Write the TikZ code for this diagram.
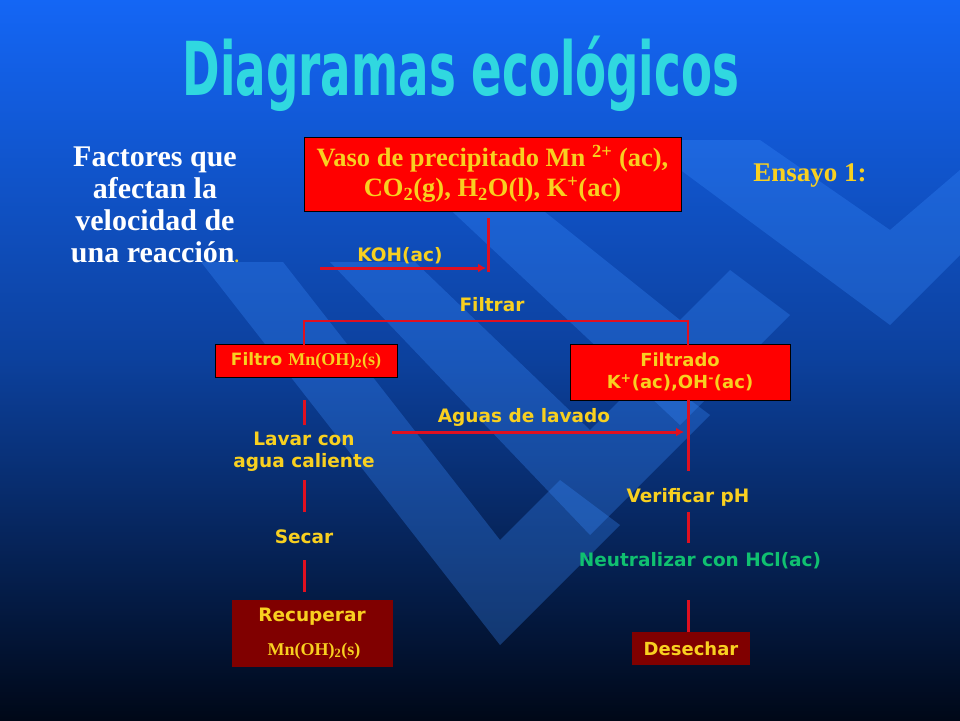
\documentclass[tikz,border=0pt]{standalone}
\usepackage{fontspec}
\setmainfont{Liberation Serif}
\setsansfont{DejaVu Sans}
\newfontfamily\titlefont{DejaVu Sans Condensed}
\usetikzlibrary{arrows.meta}
\definecolor{ylw}{HTML}{F8D020}
\definecolor{lred}{HTML}{E01020}
\definecolor{boxred}{HTML}{FF0000}
\definecolor{dred}{HTML}{800000}
\definecolor{grn}{HTML}{10C070}
\definecolor{bgtop}{HTML}{1466F5}
\definecolor{bgbot}{HTML}{000818}
\definecolor{stripe}{HTML}{3A8CFF}
\definecolor{ttl}{HTML}{30D8E0}
\begin{document}
\begin{tikzpicture}[x=1pt,y=-1pt,
  lbl/.style={font=\sffamily\bfseries\fontsize{18.5}{22}\selectfont,text=ylw,align=center,inner sep=1pt},
  redbox/.style={fill=boxred,draw=black,line width=0.8pt,text=ylw,align=center},
  darkbox/.style={fill=dred,text=ylw,align=center},
  conn/.style={draw=lred,line width=3pt},
  arr/.style={draw=lred,line width=3pt,-{Latex[length=8pt,width=9pt]}}]
\useasboundingbox (0,0) rectangle (960,720);
\shade[top color=bgtop,bottom color=bgbot,middle color=bgtop!60!bgbot] (0,0) rectangle (960,720);
% stripes
\begin{scope}[opacity=0.3]
\fill[stripe] (201,262) -- (500,645) -- (620,525) -- (560,480) -- (500,540) -- (283,262) -- cycle;
\fill[stripe] (330,262) -- (590,535) -- (710,415) -- (650,370) -- (590,430) -- (415,262) -- cycle;
\fill[stripe] (440,200) -- (680,425) -- (790,315) -- (730,270) -- (680,320) -- (530,200) -- cycle;
\fill[stripe] (640,140) -- (890,325) -- (960,255) -- (960,170) -- (890,230) -- (760,140) -- cycle;
\end{scope}
% title
\node[font=\titlefont\bfseries\fontsize{62}{62}\selectfont,text=ttl,xscale=0.81,yscale=1.2] (title) at (461,74) {Diagramas ecológicos};
% left text
\node[font=\rmfamily\bfseries\fontsize{30}{32}\selectfont,text=white,align=center] (fact) at (155,205)
 {Factores que\\afectan la\\velocidad de\\una reacción\textcolor{ylw}{\fontsize{18}{18}\selectfont.}};
\node[font=\rmfamily\bfseries\fontsize{27}{30}\selectfont,text=ylw] (ensayo) at (810,175) {Ensayo 1:};
% top box
\node[redbox,minimum width=377pt,minimum height=74pt,font=\rmfamily\bfseries\fontsize{26.5}{30}\selectfont] (vaso) at (492.5,174)
 {Vaso de precipitado Mn \textsuperscript{2+} (ac),\\CO\textsubscript{2}(g), H\textsubscript{2}O(l), K\textsuperscript{+}(ac)};
\coordinate (v1) at (488,218);
\coordinate (v2) at (488,272);
\draw[conn] (v1) -- (v2);
\node[lbl] (koh) at (400,256) {KOH(ac)};
\coordinate (k1) at (320,268);
\coordinate (k2) at (486,268);
\draw[arr] (k1) -- (k2);
\node[lbl] (filtrar) at (492,305) {Filtrar};
% boxes
\node[redbox,minimum width=182pt,minimum height=33pt,inner sep=0pt,font=\sffamily\bfseries\fontsize{17}{20}\selectfont] (filtro) at (306,360.5)
 {Filtro {\rmfamily\fontsize{18}{18}\selectfont Mn(OH)\textsubscript{2}(s)}};
\node[redbox,minimum width=220pt,minimum height=56pt,inner sep=0pt,font=\sffamily\bfseries\fontsize{18}{22}\selectfont] (filtrado) at (680,372)
 {Filtrado\\K\textsuperscript{+}(ac),OH\textsuperscript{-}(ac)};
\coordinate (h1) at (304,345);
\coordinate (h2) at (688,345);
\draw[draw=lred,line width=2.2pt] (h1) -- (304,321) -- (688,321) -- (h2);
% left column
\node[lbl] (lavar) at (304,452) {Lavar con\\agua caliente};
\node[lbl] (secar) at (304,537) {Secar};
\node[darkbox,minimum width=161pt,minimum height=67pt] (recup) at (312.5,633.5) {};
\node[lbl] (recupt) at (312,617) {Recuperar};
\node[font=\rmfamily\bfseries\fontsize{18}{18}\selectfont,text=ylw] (mnoh) at (314,651) {Mn(OH)\textsubscript{2}(s)};
\draw[conn] (304,400) -- (304,425);
\draw[conn] (304,480) -- (304,512);
\draw[conn] (304,560) -- (304,592);
% aguas
\node[lbl] (aguas) at (524,417) {Aguas de lavado};
\coordinate (a1) at (392,432);
\coordinate (a2) at (684,432);
\draw[arr] (a1) -- (a2);
% right column
\node[lbl] (verif) at (688,497) {Verificar pH};
\node[lbl,text=grn] (neutr) at (700,561) {Neutralizar con HCl(ac)};
\node[darkbox,minimum width=118pt,minimum height=33pt,inner sep=0pt,font=\sffamily\bfseries\fontsize{18}{20}\selectfont] (desechar) at (691,648.5) {Desechar};
\draw[conn] (688,400) -- (688,471);
\draw[conn] (688,512) -- (688,543);
\draw[conn] (688,600) -- (688,632);
\end{tikzpicture}
\end{document}
